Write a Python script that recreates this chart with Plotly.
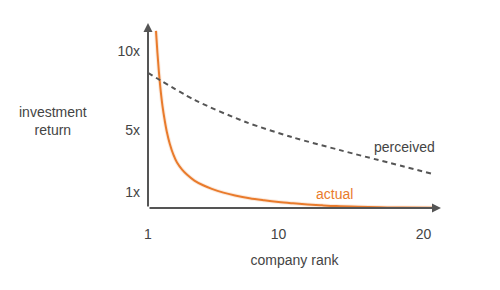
import plotly.graph_objects as go

# ---- data ----
actual_x = [1.55, 1.65, 1.75, 1.85, 2.0, 2.15, 2.3, 2.5, 2.75, 3.0, 3.35, 3.7,
            4.2, 4.8, 5.4, 6.2, 7.0, 8.0, 9.0, 10.0, 11.0, 12.0, 13.0, 14.0,
            15.5, 17.0, 18.5, 20.66]
actual_y = [11.3, 9.9, 8.7, 7.7, 6.5, 5.6, 4.85, 4.1, 3.4, 2.9, 2.45, 2.12,
            1.75, 1.45, 1.22, 0.98, 0.80, 0.62, 0.49, 0.38, 0.30, 0.23, 0.17, 0.12,
            0.075, 0.045, 0.025, 0.01]

perceived_x = [1.0, 4.24, 7.69, 10.93, 14.24, 20.66]
perceived_y = [8.62, 6.88, 5.50, 4.52, 3.69, 2.17]

x_tick_vals = [1, 10, 20]
x_tick_text = ["1", "10", "20"]
y_tick_vals = [1, 5, 10]
y_tick_text = ["1x", "5x", "10x"]

X_MAX = 21.2
Y_MAX = 11.8

ORANGE = "#E97B2C"
GRAY = "#555555"
TEXT = "#444444"
FONT = "Liberation Sans, Arial, Helvetica, sans-serif"

fig = go.Figure()

# soft halo under the actual curve
fig.add_trace(go.Scatter(
    x=actual_x, y=actual_y, mode="lines",
    line=dict(color=ORANGE, width=4, shape="spline", smoothing=1),
    opacity=0.15, hoverinfo="skip", showlegend=False,
))
fig.add_trace(go.Scatter(
    x=actual_x, y=actual_y, mode="lines", name="actual",
    line=dict(color=ORANGE, width=2, shape="spline", smoothing=1),
    showlegend=False,
))
fig.add_trace(go.Scatter(
    x=perceived_x, y=perceived_y, mode="lines", name="perceived",
    line=dict(color=GRAY, width=2, dash="5px,4px", shape="spline", smoothing=0.8),
    showlegend=False,
))

annotations = [
    # y axis arrow
    dict(x=1, y=Y_MAX, ax=1, ay=0, xref="x", yref="y", axref="x", ayref="y",
         showarrow=True, arrowhead=2, arrowsize=0.9, arrowwidth=2,
         arrowcolor=GRAY, text="", standoff=0, startstandoff=0),
    # x axis arrow
    dict(x=X_MAX, y=0, ax=1, ay=0, xref="x", yref="y", axref="x", ayref="y",
         showarrow=True, arrowhead=2, arrowsize=0.9, arrowwidth=2,
         arrowcolor=GRAY, text="", standoff=0, startstandoff=0),
    # series labels
    dict(x=13.83, y=0.89, xref="x", yref="y", text="actual", showarrow=False,
         xanchor="center", yanchor="middle",
         font=dict(family=FONT, size=14, color=ORANGE)),
    dict(x=18.66, y=3.89, xref="x", yref="y", text="perceived", showarrow=False,
         xanchor="center", yanchor="middle",
         font=dict(family=FONT, size=14, color=TEXT)),
    # y axis title (horizontal)
    dict(x=-0.324, y=0.47, xref="paper", yref="paper",
         text="investment<br>return", showarrow=False, align="center",
         xanchor="center", yanchor="middle",
         font=dict(family=FONT, size=14, color=TEXT)),
]

fig.update_layout(
    width=500, height=290,
    margin=dict(l=148, r=59, t=23, b=82),
    paper_bgcolor="white", plot_bgcolor="white",
    font=dict(family=FONT, size=14, color=TEXT),
    annotations=annotations,
    xaxis=dict(
        range=[1, X_MAX], showgrid=False, zeroline=False, showline=False,
        tickvals=x_tick_vals, ticktext=x_tick_text, ticks="",
        ticklabelstandoff=16,
        title=dict(text="company rank", standoff=14,
                   font=dict(family=FONT, size=14, color=TEXT)),
        fixedrange=True,
    ),
    yaxis=dict(
        range=[0, Y_MAX], showgrid=False, zeroline=False, showline=False,
        tickvals=y_tick_vals, ticktext=y_tick_text, ticks="",
        ticklabelstandoff=7, fixedrange=True,
    ),
)

fig.write_html("out.html")
